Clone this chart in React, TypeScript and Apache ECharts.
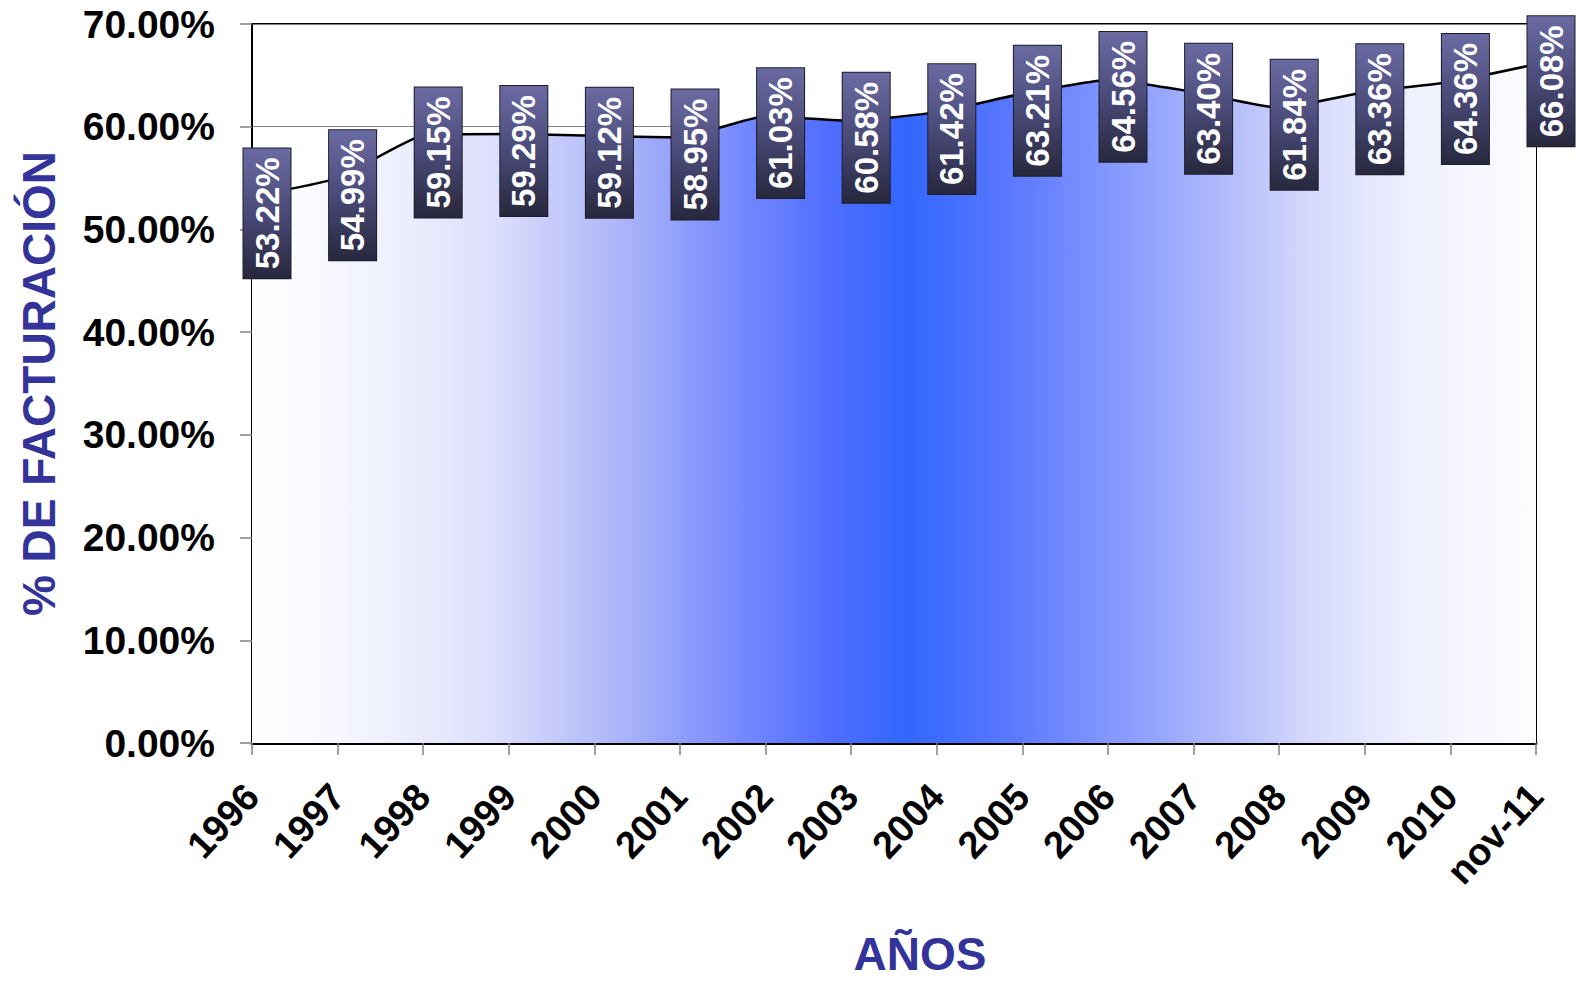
import React, { useEffect, useRef } from 'react';
import * as echarts from 'echarts';

const categories: string[] = [
  '1996', '1997', '1998', '1999', '2000', '2001', '2002', '2003',
  '2004', '2005', '2006', '2007', '2008', '2009', '2010', 'nov-11',
];

const shareValues: number[] = [
  53.22, 54.99, 59.15, 59.29, 59.12, 58.95, 61.03, 60.58,
  61.42, 63.21, 64.56, 63.40, 61.84, 63.36, 64.36, 66.08,
];

const yMin = 0;
const yMax = 70;
const yStep = 10;

const xAxisTitle = 'AÑOS';
const yAxisTitle = '% DE FACTURACIÓN';

const FONT = "'Liberation Sans', Arial, Helvetica, sans-serif";
const TITLE_COLOR = '#333399';

export default function App() {
  const ref = useRef<HTMLDivElement>(null);

  useEffect(() => {
    if (!ref.current) return;
    const chart = echarts.init(ref.current, undefined, { renderer: 'svg' });

    const areaGradient = new echarts.graphic.LinearGradient(0, 0, 1, 0, [
      { offset: 0, color: '#ffffff' },
      { offset: 0.055, color: '#f8f9ff' },
      { offset: 0.12, color: '#eceefd' },
      { offset: 0.19, color: '#dcdefc' },
      { offset: 0.29, color: '#aab4f8' },
      { offset: 0.39, color: '#7085ff' },
      { offset: 0.45, color: '#4f6dff' },
      { offset: 0.51, color: '#3366ff' },
      { offset: 0.59, color: '#5a78ff' },
      { offset: 0.69, color: '#8ea0ff' },
      { offset: 0.77, color: '#b8c0fa' },
      { offset: 0.82, color: '#d4d8fc' },
      { offset: 0.9, color: '#eef0fe' },
      { offset: 1, color: '#fdfdff' },
    ]);

    const labelGradient = new echarts.graphic.LinearGradient(1, 0, 0, 0, [
      { offset: 0, color: '#6b6ba3' },
      { offset: 0.5, color: '#4a4a78' },
      { offset: 1, color: '#27273d' },
    ]);

    chart.setOption({
      animation: false,
      backgroundColor: '#ffffff',
      grid: {
        left: 252,
        right: 45,
        top: 24,
        bottom: 242,
        show: true,
        borderColor: '#000000',
        borderWidth: 2,
        backgroundColor: 'transparent',
      },
      xAxis: {
        type: 'category',
        data: categories,
        boundaryGap: false,
        name: xAxisTitle,
        nameLocation: 'middle',
        nameGap: 188,
        nameTextStyle: {
          fontFamily: FONT,
          fontWeight: 'bold',
          fontSize: 46,
          color: TITLE_COLOR,
          padding: [0, 0, 0, 52],
        },
        axisLine: { show: true, lineStyle: { color: '#000000', width: 3 } },
        axisTick: {
          show: true,
          inside: false,
          length: 12,
          alignWithLabel: true,
          lineStyle: { color: '#808080', width: 1.5 },
        },
        axisLabel: {
          rotate: 47,
          margin: 47,
          fontFamily: FONT,
          fontWeight: 'bold',
          fontSize: 38,
          color: '#000000',
        },
        splitLine: { show: false },
      },
      yAxis: {
        type: 'value',
        min: yMin,
        max: yMax,
        interval: yStep,
        name: yAxisTitle,
        nameLocation: 'middle',
        nameGap: 190,
        nameTextStyle: {
          fontFamily: FONT,
          fontWeight: 'bold',
          fontSize: 46,
          color: TITLE_COLOR,
        },
        axisLine: { show: true, lineStyle: { color: '#000000', width: 2 } },
        axisTick: {
          show: true,
          inside: false,
          length: 12,
          lineStyle: { color: '#808080', width: 1.5 },
        },
        axisLabel: {
          margin: 37,
          fontFamily: FONT,
          fontWeight: 'bold',
          fontSize: 39,
          color: '#000000',
          formatter: (v: number) => v.toFixed(2) + '%',
        },
        splitLine: { show: true, lineStyle: { color: '#808080', width: 1 } },
      },
      series: [
        {
          type: 'line',
          data: shareValues,
          smooth: 0.15,
          symbol: 'circle',
          symbolSize: 1,
          showSymbol: true,
          itemStyle: { color: '#000000' },
          lineStyle: { color: '#000000', width: 2.5 },
          areaStyle: { color: areaGradient, opacity: 1 },
          label: {
            show: true,
            position: 'inside',
            rotate: 90,
            offset: [-17, 15],
            align: 'center',
            verticalAlign: 'middle',
            formatter: (p: any) => Number(p.value).toFixed(2) + '%',
            fontFamily: FONT,
            fontWeight: 'bold',
            fontSize: 33,
            lineHeight: 33,
            color: '#ffffff',
            backgroundColor: labelGradient,
            borderColor: '#1c1c2c',
            borderWidth: 1,
            padding: [7, 9, 7, 9],
          },
          emphasis: { disabled: true },
          z: 3,
        },
      ],
    });

    return () => {
      chart.dispose();
    };
  }, []);

  return (
    <div
      ref={ref}
      style={{ position: 'absolute', left: 0, top: 0, width: 1581, height: 985 }}
    />
  );
}
